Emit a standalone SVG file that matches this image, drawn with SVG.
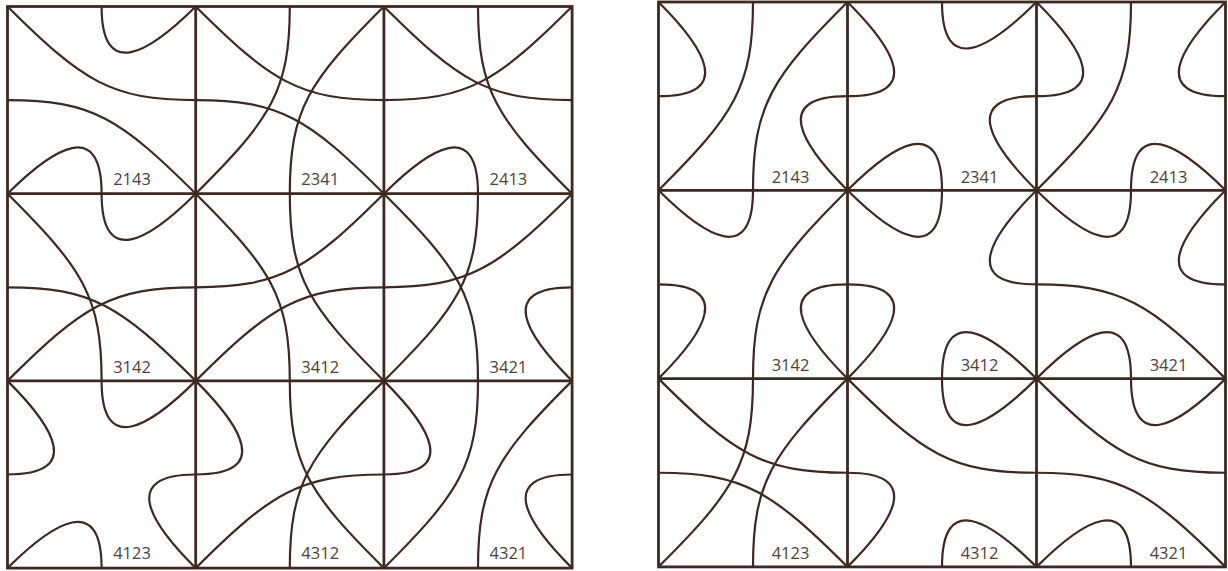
<svg xmlns="http://www.w3.org/2000/svg" xmlns:xlink="http://www.w3.org/1999/xlink" width="1228" height="571" viewBox="0 0 1228 571">
<style>
.grid{fill:none;stroke:#3d2922;stroke-width:2.8}
.c{fill:none;stroke:#3d2922;stroke-width:2.2;vector-effect:non-scaling-stroke}
.lb{font-family:"Open Sans","Noto Sans",sans-serif;font-size:16.5px;fill:#4e3f3b;text-anchor:middle}
</style>
<defs>
<path id="TL-T" class="c" d="M50,0 C50,40 25,25 0,0"/>
<path id="TL-L" class="c" d="M0,50 C40,50 25,25 0,0"/>
<path id="TR-T" class="c" d="M50,0 C50,40 75,25 100,0"/>
<path id="TR-R" class="c" d="M100,50 C60,50 75,25 100,0"/>
<path id="BR-R" class="c" d="M100,50 C60,50 75,75 100,100"/>
<path id="BR-B" class="c" d="M50,100 C50,60 75,75 100,100"/>
<path id="BL-B" class="c" d="M50,100 C50,60 25,75 0,100"/>
<path id="BL-L" class="c" d="M0,50 C40,50 25,75 0,100"/>
<path id="TL-R" class="c" d="M100,50 C55,50 40,40 0,0"/>
<path id="TL-B" class="c" d="M50,100 C50,55 40,40 0,0"/>
<path id="TR-B" class="c" d="M50,100 C50,55 60,40 100,0"/>
<path id="TR-L" class="c" d="M0,50 C45,50 60,40 100,0"/>
<path id="BR-L" class="c" d="M0,50 C45,50 60,60 100,100"/>
<path id="BR-T" class="c" d="M50,0 C50,45 60,60 100,100"/>
<path id="BL-T" class="c" d="M50,0 C50,45 40,60 0,100"/>
<path id="BL-R" class="c" d="M100,50 C55,50 40,60 0,100"/>
</defs>
<rect width="1228" height="571" fill="#ffffff"/>
<g id="grid-left" class="grid">
<rect x="7.5" y="6.5" width="564.6" height="561.6"/>
<path d="M195.7,6.5V568.1M383.9,6.5V568.1M7.5,193.7H572.1M7.5,380.9H572.1"/>
</g>
<g id="grid-right" class="grid">
<rect x="658.5" y="2" width="567" height="564.9"/>
<path d="M847.5,2V566.9M1036.5,2V566.9M658.5,190.3H1225.5M658.5,378.6H1225.5"/>
</g>
<g id="left-tiles">
<g id="L-2143" transform="translate(7.5,6.5)"><g transform="scale(1.882,1.872)"><use href="#TL-R"/><use href="#TR-T"/><use href="#BR-L"/><use href="#BL-B"/></g><text class="lb" x="124.5" y="178.5">2143</text></g>
<g id="L-2341" transform="translate(195.7,6.5)"><g transform="scale(1.882,1.872)"><use href="#TL-R"/><use href="#TR-B"/><use href="#BR-L"/><use href="#BL-T"/></g><text class="lb" x="124.5" y="178.5">2341</text></g>
<g id="L-2413" transform="translate(383.9,6.5)"><g transform="scale(1.882,1.872)"><use href="#TL-R"/><use href="#TR-L"/><use href="#BR-T"/><use href="#BL-B"/></g><text class="lb" x="124.5" y="178.5">2413</text></g>
<g id="L-3142" transform="translate(7.5,193.7)"><g transform="scale(1.882,1.872)"><use href="#TL-B"/><use href="#TR-T"/><use href="#BR-L"/><use href="#BL-R"/></g><text class="lb" x="124.5" y="179">3142</text></g>
<g id="L-3412" transform="translate(195.7,193.7)"><g transform="scale(1.882,1.872)"><use href="#TL-B"/><use href="#TR-L"/><use href="#BR-T"/><use href="#BL-R"/></g><text class="lb" x="124.5" y="179">3412</text></g>
<g id="L-3421" transform="translate(383.9,193.7)"><g transform="scale(1.882,1.872)"><use href="#TL-B"/><use href="#TR-L"/><use href="#BR-R"/><use href="#BL-T"/></g><text class="lb" x="124.5" y="179">3421</text></g>
<g id="L-4123" transform="translate(7.5,380.9)"><g transform="scale(1.882,1.872)"><use href="#TL-L"/><use href="#TR-T"/><use href="#BR-R"/><use href="#BL-B"/></g><text class="lb" x="124.5" y="178.5">4123</text></g>
<g id="L-4312" transform="translate(195.7,380.9)"><g transform="scale(1.882,1.872)"><use href="#TL-L"/><use href="#TR-B"/><use href="#BR-T"/><use href="#BL-R"/></g><text class="lb" x="124.5" y="178.5">4312</text></g>
<g id="L-4321" transform="translate(383.9,380.9)"><g transform="scale(1.882,1.872)"><use href="#TL-L"/><use href="#TR-B"/><use href="#BR-R"/><use href="#BL-T"/></g><text class="lb" x="124.5" y="178.5">4321</text></g>
</g>
<g id="right-tiles">
<g id="R-2143" transform="translate(658.5,2)"><g transform="scale(1.89,1.883)"><use href="#TL-L"/><use href="#TR-B"/><use href="#BR-R"/><use href="#BL-T"/></g><text class="lb" x="132" y="180.5">2143</text></g>
<g id="R-2341" transform="translate(847.5,2)"><g transform="scale(1.89,1.883)"><use href="#TL-L"/><use href="#TR-T"/><use href="#BR-R"/><use href="#BL-B"/></g><text class="lb" x="132" y="180.5">2341</text></g>
<g id="R-2413" transform="translate(1036.5,2)"><g transform="scale(1.89,1.883)"><use href="#TL-L"/><use href="#TR-R"/><use href="#BR-B"/><use href="#BL-T"/></g><text class="lb" x="132" y="180.5">2413</text></g>
<g id="R-3142" transform="translate(658.5,190.3)"><g transform="scale(1.89,1.883)"><use href="#TL-T"/><use href="#TR-B"/><use href="#BR-R"/><use href="#BL-L"/></g><text class="lb" x="132" y="180.5">3142</text></g>
<g id="R-3412" transform="translate(847.5,190.3)"><g transform="scale(1.89,1.883)"><use href="#TL-T"/><use href="#TR-R"/><use href="#BR-B"/><use href="#BL-L"/></g><text class="lb" x="132" y="180.5">3412</text></g>
<g id="R-3421" transform="translate(1036.5,190.3)"><g transform="scale(1.89,1.883)"><use href="#TL-T"/><use href="#TR-R"/><use href="#BR-L"/><use href="#BL-B"/></g><text class="lb" x="132" y="180.5">3421</text></g>
<g id="R-4123" transform="translate(658.5,378.6)"><g transform="scale(1.89,1.883)"><use href="#TL-R"/><use href="#TR-B"/><use href="#BR-L"/><use href="#BL-T"/></g><text class="lb" x="132" y="180.5">4123</text></g>
<g id="R-4312" transform="translate(847.5,378.6)"><g transform="scale(1.89,1.883)"><use href="#TL-R"/><use href="#TR-T"/><use href="#BR-B"/><use href="#BL-L"/></g><text class="lb" x="132" y="180.5">4312</text></g>
<g id="R-4321" transform="translate(1036.5,378.6)"><g transform="scale(1.89,1.883)"><use href="#TL-R"/><use href="#TR-T"/><use href="#BR-L"/><use href="#BL-B"/></g><text class="lb" x="132" y="180.5">4321</text></g>
</g>
</svg>
